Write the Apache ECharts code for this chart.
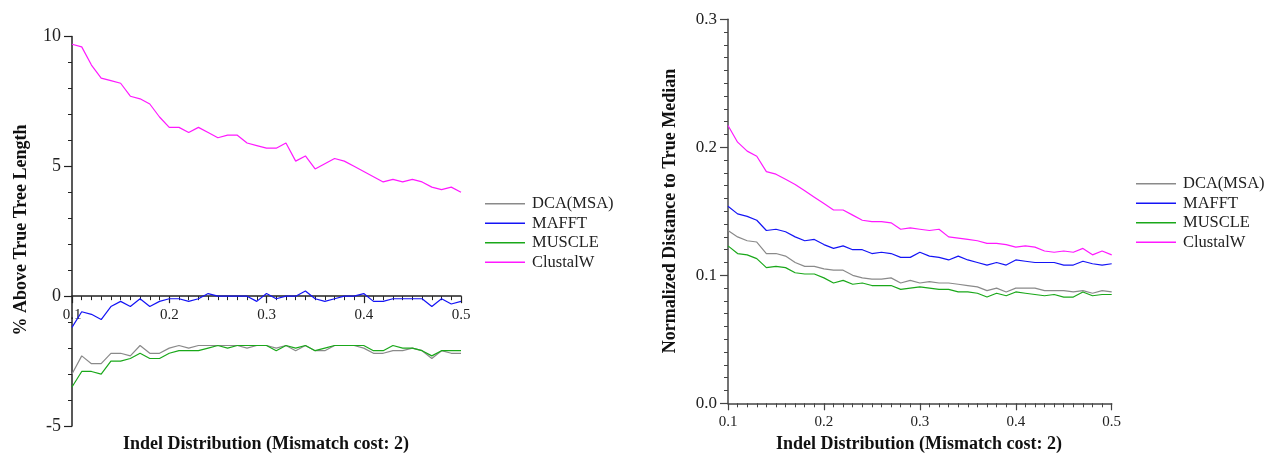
<!DOCTYPE html>
<html>
<head>
<meta charset="utf-8">
<script src="https://cdn.jsdelivr.net/npm/echarts@6/dist/echarts.min.js"></script>
<style>
  html, body { margin: 0; padding: 0; background: #fff; }
  #chart { width: 1273px; height: 456px; }
</style>
</head>
<body>
<div id="chart"></div>
<script>
// Indel distribution values (x axis, shared by both panels)
const indel = [0.10, 0.11, 0.12, 0.13, 0.14, 0.15, 0.16, 0.17, 0.18, 0.19,
               0.20, 0.21, 0.22, 0.23, 0.24, 0.25, 0.26, 0.27, 0.28, 0.29,
               0.30, 0.31, 0.32, 0.33, 0.34, 0.35, 0.36, 0.37, 0.38, 0.39,
               0.40, 0.41, 0.42, 0.43, 0.44, 0.45, 0.46, 0.47, 0.48, 0.49, 0.50];

const methods = ['DCA(MSA)', 'MAFFT', 'MUSCLE', 'ClustalW'];
const colors = ['#8a8a8a', '#1414f5', '#1aa81a', '#ff19ff'];

// Left panel: % above true tree length
const dcaPct = [-3.0, -2.3, -2.6, -2.6, -2.2, -2.2, -2.3, -1.9, -2.2, -2.2,
                -2.0, -1.9, -2.0, -1.9, -1.9, -1.9, -1.9, -1.9, -2.0, -1.9,
                -1.9, -2.0, -1.9, -2.1, -1.9, -2.1, -2.1, -1.9, -1.9, -1.9,
                -2.0, -2.2, -2.2, -2.1, -2.1, -2.0, -2.1, -2.4, -2.1, -2.2, -2.2];
const mafftPct = [-1.2, -0.6, -0.7, -0.9, -0.4, -0.2, -0.4, -0.1, -0.4, -0.2,
                  -0.1, -0.1, -0.2, -0.1, 0.1, 0.0, 0.0, 0.0, 0.0, -0.2,
                  0.1, -0.1, 0.0, 0.0, 0.2, -0.1, -0.2, -0.1, 0.0, 0.0,
                  0.1, -0.2, -0.2, -0.1, -0.1, -0.1, -0.1, -0.4, -0.1, -0.3, -0.2];
const musclePct = [-3.5, -2.9, -2.9, -3.0, -2.5, -2.5, -2.4, -2.2, -2.4, -2.4,
                   -2.2, -2.1, -2.1, -2.1, -2.0, -1.9, -2.0, -1.9, -1.9, -1.9,
                   -1.9, -2.1, -1.9, -2.0, -1.9, -2.1, -2.0, -1.9, -1.9, -1.9,
                   -1.9, -2.1, -2.1, -1.9, -2.0, -2.0, -2.1, -2.3, -2.1, -2.1, -2.1];
const clustalPct = [9.7, 9.6, 8.9, 8.4, 8.3, 8.2, 7.7, 7.6, 7.4, 6.9,
                    6.5, 6.5, 6.3, 6.5, 6.3, 6.1, 6.2, 6.2, 5.9, 5.8,
                    5.7, 5.7, 5.9, 5.2, 5.4, 4.9, 5.1, 5.3, 5.2, 5.0,
                    4.8, 4.6, 4.4, 4.5, 4.4, 4.5, 4.4, 4.2, 4.1, 4.2, 4.0];

// Right panel: normalized distance to true median
const dcaDist = [0.135, 0.130, 0.127, 0.126, 0.117, 0.117, 0.115, 0.110, 0.107, 0.107,
                 0.105, 0.104, 0.104, 0.100, 0.098, 0.097, 0.097, 0.098, 0.094, 0.096,
                 0.094, 0.095, 0.094, 0.094, 0.093, 0.092, 0.091, 0.088, 0.090, 0.087,
                 0.090, 0.090, 0.090, 0.088, 0.088, 0.088, 0.087, 0.088, 0.086, 0.088, 0.087];
const mafftDist = [0.154, 0.148, 0.146, 0.143, 0.135, 0.136, 0.134, 0.130, 0.127, 0.128,
                   0.124, 0.121, 0.123, 0.120, 0.120, 0.117, 0.118, 0.117, 0.114, 0.114,
                   0.118, 0.115, 0.114, 0.112, 0.115, 0.112, 0.110, 0.108, 0.110, 0.108,
                   0.112, 0.111, 0.110, 0.110, 0.110, 0.108, 0.108, 0.111, 0.109, 0.108, 0.109];
const muscleDist = [0.123, 0.117, 0.116, 0.113, 0.106, 0.107, 0.106, 0.102, 0.101, 0.101,
                    0.098, 0.094, 0.096, 0.093, 0.094, 0.092, 0.092, 0.092, 0.089, 0.090,
                    0.091, 0.090, 0.089, 0.089, 0.087, 0.087, 0.086, 0.083, 0.086, 0.084,
                    0.087, 0.086, 0.085, 0.084, 0.085, 0.083, 0.083, 0.087, 0.084, 0.085, 0.085];
const clustalDist = [0.217, 0.204, 0.197, 0.193, 0.181, 0.179, 0.175, 0.171, 0.166, 0.161,
                     0.156, 0.151, 0.151, 0.147, 0.143, 0.142, 0.142, 0.141, 0.136, 0.137,
                     0.136, 0.135, 0.136, 0.130, 0.129, 0.128, 0.127, 0.125, 0.125, 0.124,
                     0.122, 0.123, 0.122, 0.119, 0.118, 0.119, 0.118, 0.121, 0.116, 0.119, 0.116];

const leftSeries = [dcaPct, mafftPct, musclePct, clustalPct];
const rightSeries = [dcaDist, mafftDist, muscleDist, clustalDist];

const FONT = '"Liberation Serif", "DejaVu Serif", serif';

// Panel layout
const LEFT_GRID = { left: 72, top: 36.5, width: 389, height: 389.5 };
const RIGHT_GRID = { left: 728, top: 19.3, width: 383.7, height: 384 };
const LEFT_Y = { min: -5, max: 10 };
// the left x axis runs along y = 0, so lift it from the grid bottom by that amount
const leftAxisLift = LEFT_GRID.height * (0 - LEFT_Y.min) / (LEFT_Y.max - LEFT_Y.min);

function pairs(values) {
  return indel.map((x, i) => [x, values[i]]);
}

function xAxisFor(gridIndex, labelSize, offset, margin, color) {
  return {
    type: 'value', gridIndex: gridIndex, min: 0.1, max: 0.5, interval: 0.1,
    position: 'bottom', offset: offset,
    axisLine: { show: true, onZero: false, lineStyle: { color: color, width: 1.5 } },
    axisTick: { show: true, inside: false, length: 7, lineStyle: { color: color, width: 1.2 } },
    minorTick: { show: true, splitNumber: 10, length: 4, lineStyle: { color: color, width: 1 } },
    splitLine: { show: false },
    axisLabel: { fontFamily: FONT, fontSize: labelSize, color: '#222', margin: margin,
                 formatter: v => v.toFixed(1) }
  };
}

function yAxisFor(gridIndex, min, max, interval, minorSplit, labelSize, fmt, color) {
  return {
    type: 'value', gridIndex: gridIndex, min: min, max: max, interval: interval,
    axisLine: { show: true, onZero: false, lineStyle: { color: color, width: 1.5 } },
    axisTick: { show: true, inside: false, length: 8, lineStyle: { color: color, width: 1.2 } },
    minorTick: { show: true, splitNumber: minorSplit, length: 4, lineStyle: { color: color, width: 1 } },
    splitLine: { show: false },
    axisLabel: { fontFamily: FONT, fontSize: labelSize, color: '#222', margin: 11, formatter: fmt }
  };
}

function lineSeries(values, i, axisIndex) {
  return {
    type: 'line', name: methods[i], xAxisIndex: axisIndex, yAxisIndex: axisIndex,
    data: pairs(values), symbol: 'none', showSymbol: false,
    lineStyle: { color: colors[i], width: 1.2 }, itemStyle: { color: colors[i] },
    z: 3
  };
}

function legendAt(left, top) {
  return {
    orient: 'vertical', left: left, top: top, padding: 0, itemWidth: 40, itemHeight: 1.5,
    itemGap: 0, icon: 'rect', selectedMode: false,
    data: methods,
    textStyle: { fontFamily: FONT, fontSize: 16.5, color: '#222', lineHeight: 19.5,
                 padding: [0, 0, 0, 2] }
  };
}

function titleText(text, x, y, rotate) {
  return {
    type: 'text', x: x, y: y, rotation: rotate ? Math.PI / 2 : 0,
    style: { text: text, fontFamily: FONT, fontSize: 18, fontWeight: 'bold', fill: '#111',
             align: 'center', verticalAlign: 'middle' }
  };
}

const chart = echarts.init(document.getElementById('chart'), null, { renderer: 'canvas' });

chart.setOption({
  animation: false,
  backgroundColor: '#fff',
  grid: [LEFT_GRID, RIGHT_GRID],
  xAxis: [
    xAxisFor(0, 15, -leftAxisLift, 11, '#222'),
    xAxisFor(1, 15, 0, 11, '#444')
  ],
  yAxis: [
    yAxisFor(0, LEFT_Y.min, LEFT_Y.max, 5, 5, 18, v => String(v), '#222'),
    yAxisFor(1, 0, 0.3, 0.1, 10, 17, v => v.toFixed(1), '#444')
  ],
  legend: [legendAt(485, 194), legendAt(1136, 174)],
  series: leftSeries.map((v, i) => lineSeries(v, i, 0))
    .concat(rightSeries.map((v, i) => lineSeries(v, i, 1))),
  graphic: [
    titleText('Indel Distribution (Mismatch cost: 2)', 266, 444, false),
    titleText('Indel Distribution (Mismatch cost: 2)', 919, 444, false),
    titleText('% Above True Tree Length', 21, 230, true),
    titleText('Normalized Distance to True Median', 670, 211, true)
  ]
});
</script>
</body>
</html>
